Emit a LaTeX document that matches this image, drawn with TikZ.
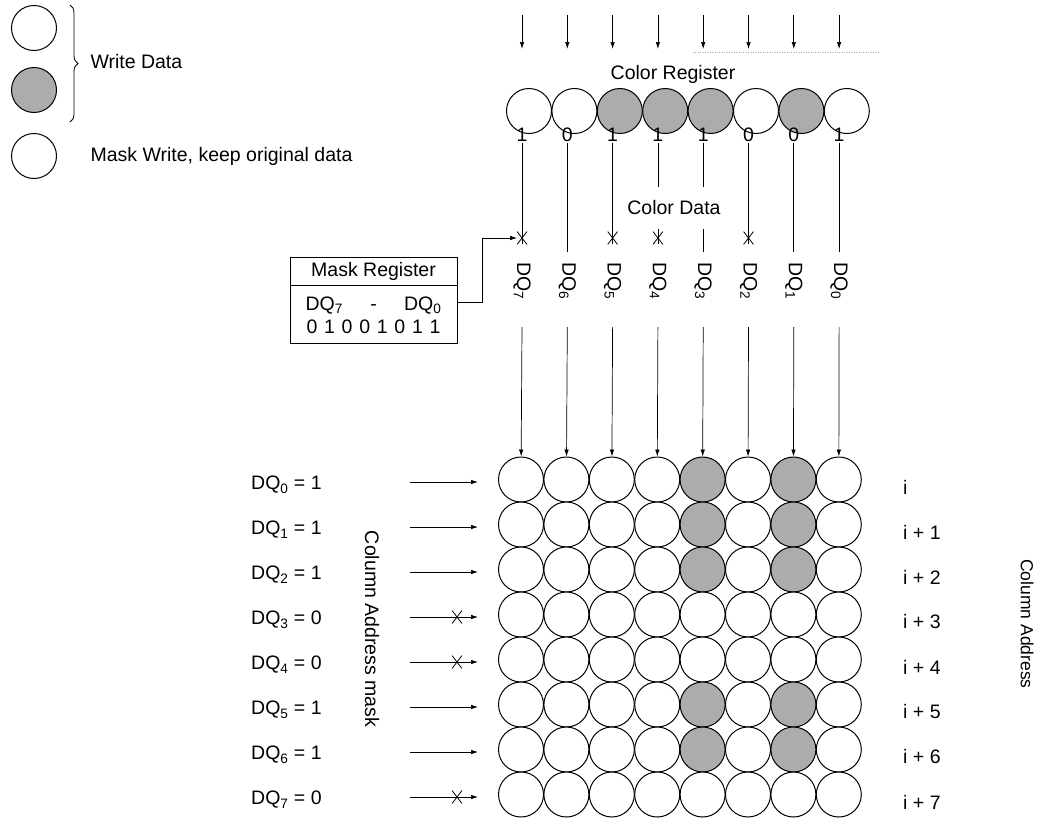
\documentclass[tikz,border=0pt]{standalone}
\usepackage{fontspec}
\setmainfont{Liberation Sans}
\usetikzlibrary{positioning,arrows.meta,shapes.misc,decorations.pathreplacing}
\definecolor{dotgray}{RGB}{172,172,172}

\begin{document}
\begin{tikzpicture}[x=1pt,y=-1pt,
    every node/.style={font=\fontsize{19.5}{23}\selectfont},
    cell/.style={circle,draw,minimum size=45pt,inner sep=0pt,line width=1pt},
    cellset/.style={cell,fill=dotgray},
    arr/.style={-{Latex[length=7pt,width=4.5pt]},line width=0.7pt},
    xmark/.style={cross out,draw,minimum width=9pt,minimum height=12pt,inner sep=0pt,line width=0.8pt}]
  \useasboundingbox (0,0) rectangle (1040,822);

  % legend
  \node[cell] (leg1) at (34,28) {};
  \node[cellset] (leg2) at (34,90) {};
  \node[cell] (leg3) at (34,156) {};
  \draw[decorate,decoration={brace,amplitude=8pt},line width=0.8pt] (70,5) -- (70,122);
  \node[anchor=west] (wdata) at (87,62) {Write Data};
  \node[anchor=west] (mwrite) at (87,156) {Mask Write, keep original data};

  % color register
  \foreach \i in {0,...,7} {
    \coordinate (in\i) at (522+45.3*\i,15);
    \coordinate (inend\i) at (522+45.3*\i,49);
    \draw[arr] (in\i) -- (inend\i);
  }
  \draw[dotgray,dotted] (693,52) -- (880,52);
  \node (creg) at (673,74) {Color Register};
  \foreach \i/\f in {0/white,1/white,2/dotgray,3/dotgray,4/dotgray,5/white,6/dotgray,7/white}
    \node[cell,fill=\f] (reg\i) at (529+45.4*\i,111) {};
  \foreach \i/\d in {0/1,1/0,2/1,3/1,4/1,5/0,6/0,7/1}
    \node[inner sep=1pt] (bit\i) at (522+45.3*\i,135) {\d};

  % color data
  \foreach \i in {0,2,3,5} {
    \node[xmark] (cx\i) at (522+45.3*\i,238) {};
    \draw[line width=0.7pt] (bit\i) -- (cx\i.south);
  }
  \foreach \i in {1,4,6,7} {
    \coordinate (cend\i) at (522+45.3*\i,252);
    \draw[line width=0.7pt] (bit\i) -- (cend\i);
  }
  \node[fill=white,inner xsep=2pt,minimum height=42pt] (cdata) at (674,208) {Color Data};
  \foreach \i in {0,...,7} {
    \pgfmathtruncatemacro\n{7-\i}
    \node[rotate=-90,inner sep=0pt] (dq\i) at (522+45.3*\i,281) {DQ\textsubscript{\n}};
    \coordinate (lo\i) at (522+45.3*\i,327);
  }

  % mask register
  \node[draw,minimum width=167pt,minimum height=28pt,inner sep=0pt,line width=0.8pt] (mtitle) at (373.5,271) {Mask Register};
  \node[draw,minimum width=167pt,minimum height=58pt,inner sep=0pt,line width=0.8pt,below=0pt of mtitle,align=center]
    (mbody) {\makebox[136pt]{DQ\textsubscript{7}\hfill-\hfill DQ\textsubscript{0}}\\
             \makebox[134pt]{0\hfill 1\hfill 0\hfill 0\hfill 1\hfill 0\hfill 1\hfill 1}};
  \draw[arr] ([yshift=12pt]mbody.east) -- ++(25,0) |- (cx0.west);

  % memory cells
  \foreach \r/\on in {0/1,1/1,2/1,3/0,4/0,5/1,6/1,7/0} {
    \foreach \c in {0,...,7} {
      \pgfmathtruncatemacro\sh{(\on==1)&&(\c==4||\c==6)}
      \ifnum\sh=1 \def\fc{dotgray}\else\def\fc{white}\fi
      \node[cell,fill=\fc] (g-\r-\c) at (521+45.4*\c,479.5+45*\r) {};
    }
    \node[anchor=west,inner sep=0pt] (dqv\r) at (251,485+45*\r) {DQ\textsubscript{\r} = \on};
    \coordinate (al\r) at (410,482+45*\r);
    \coordinate (ar\r) at (478,482+45*\r);
    \draw[arr] (al\r) -- (ar\r);
    \ifnum\r=0
      \node[anchor=west,inner sep=0pt] (ca\r) at (903,487) {i};
    \else
      \node[anchor=west,inner sep=0pt] (ca\r) at (903,487+45*\r) {i + \r};
    \fi
  }
  \foreach \i in {0,...,7}
    \draw[arr] (lo\i) -- (g-0-\i);
  \foreach \r in {3,4,7}
    \node[xmark] (rx\r) at (457,482+45*\r) {};

  \node[rotate=-90] (camask) at (372,629) {Column Address mask};
  \node[rotate=-90,font=\fontsize{17.5}{20}\selectfont] (caddr) at (1027,624) {Column Address};
\end{tikzpicture}
\end{document}
